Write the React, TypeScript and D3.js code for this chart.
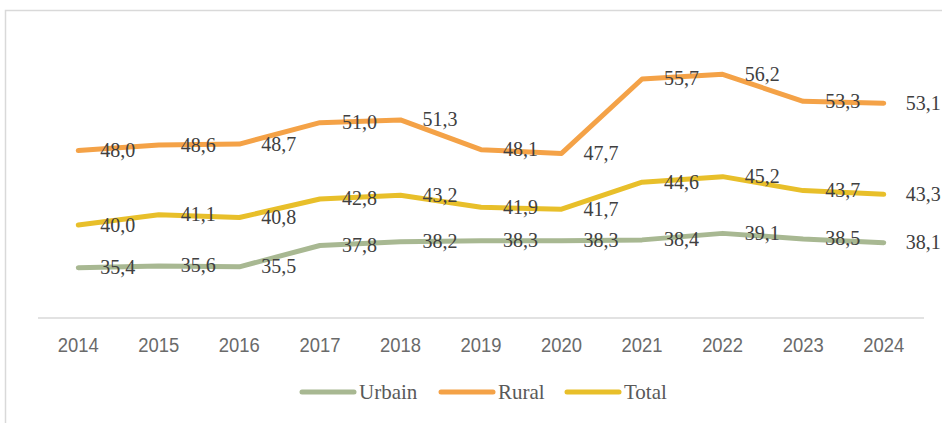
import React from "react";
import * as d3 from "d3";

const years = ["2014", "2015", "2016", "2017", "2018", "2019", "2020", "2021", "2022", "2023", "2024"];
const urbain = [35.4, 35.6, 35.5, 37.8, 38.2, 38.3, 38.3, 38.4, 39.1, 38.5, 38.1];
const rural = [48.0, 48.6, 48.7, 51.0, 51.3, 48.1, 47.7, 55.7, 56.2, 53.3, 53.1];
const total = [40.0, 41.1, 40.8, 42.8, 43.2, 41.9, 41.7, 44.6, 45.2, 43.7, 43.3];
const seriesNames = ["Urbain", "Rural", "Total"];
const seriesColors = ["#A8B892", "#F4A247", "#E8BF2A"];

const W = 942;
const H = 423;

export default function App() {
  const x = d3.scaleBand<string>().domain(years).range([38, 924]);
  const y = d3.scaleLinear().domain([30, 60]).range([318, 39]);
  const cx = (yr: string) => (x(yr) as number) + x.bandwidth() / 2;
  const line = d3
    .line<number>()
    .x((_, i) => cx(years[i]))
    .y((v) => y(v));
  const series = [urbain, rural, total];
  const fmt = (v: number) => v.toFixed(1).replace(".", ",");
  const serif = "'Liberation Serif', 'DejaVu Serif', serif";
  const legendX = [300, 439, 565];

  return (
    <svg
      width={W}
      height={H}
      style={{ position: "absolute", left: 0, top: 0, background: "#fff" }}
    >
      <rect x={5.5} y={10.5} width={W + 10} height={H + 10} fill="#fff" stroke="#d9d9d9" strokeWidth={1.5} />
      <line x1={38} x2={924} y1={318} y2={318} stroke="#d9d9d9" strokeWidth={1.5} />
      {years.map((yr) => (
        <text
          key={yr}
          x={cx(yr)}
          y={352}
          textAnchor="middle"
          fontFamily="'Liberation Sans', sans-serif"
          fontSize={20}
          fontWeight={400}
          fill="#6a6a6a"
          textLength={41}
          lengthAdjust="spacingAndGlyphs"
        >
          {yr}
        </text>
      ))}
      {series.map((s, si) => (
        <path
          key={si}
          d={line(s) || ""}
          fill="none"
          stroke={seriesColors[si]}
          strokeWidth={5}
          strokeLinecap="round"
          strokeLinejoin="round"
        />
      ))}
      {series.map((s, si) =>
        s.map((v, i) => (
          <text
            key={si + "-" + i}
            x={cx(years[i]) + 22}
            y={y(v) + 6.5}
            fontFamily={serif}
            fontSize={20}
            fill="#404040"
          >
            {fmt(v)}
          </text>
        ))
      )}
      {seriesNames.map((n, i) => (
        <g key={n}>
          <line
            x1={legendX[i] + 2}
            x2={legendX[i] + 54}
            y1={392}
            y2={392}
            stroke={seriesColors[i]}
            strokeWidth={5}
            strokeLinecap="round"
          />
          <text x={legendX[i] + 59} y={399} fontFamily={serif} fontSize={21} fill="#595959">
            {n}
          </text>
        </g>
      ))}
    </svg>
  );
}
